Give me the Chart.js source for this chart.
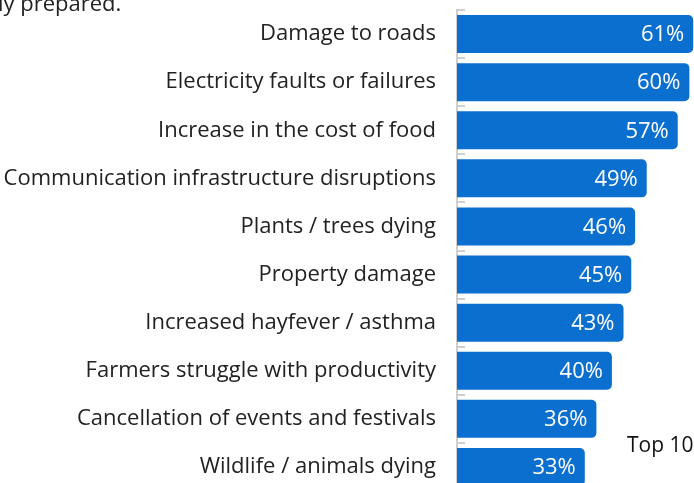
<!DOCTYPE html>
<html>
<head>
<meta charset="utf-8">
<script src="https://cdn.jsdelivr.net/npm/chart.js@4"></script>
<style>
  html, body { margin: 0; padding: 0; background: #fff; overflow: hidden; width: 694px; height: 483px; }
  #chart { position: absolute; left: 0; top: 0; }
  #title { position: absolute; left: -2px; top: -13px; font: 22px "Open Sans", sans-serif; color: #222; white-space: nowrap; }
  #note { position: absolute; left: 627px; top: 430px; font: 21px "Open Sans", sans-serif; color: #111; white-space: nowrap; }
</style>
</head>
<body>
<canvas id="chart" width="694" height="491"></canvas>
<div id="title">ly prepared.</div>
<div id="note">Top 10</div>
<script>
const categories = [
  "Damage to roads",
  "Electricity faults or failures",
  "Increase in the cost of food",
  "Communication infrastructure disruptions",
  "Plants / trees dying",
  "Property damage",
  "Increased hayfever / asthma",
  "Farmers struggle with productivity",
  "Cancellation of events and festivals",
  "Wildlife / animals dying"
];
const values = [61, 60, 57, 49, 46, 45, 43, 40, 36, 33];

const barColor = "#0b6fd0";
const axisColor = "#cfcfcf";

// white % labels at the end of each bar
const valueLabels = {
  id: "valueLabels",
  afterDatasetsDraw(chart) {
    const ctx = chart.ctx;
    const meta = chart.getDatasetMeta(0);
    ctx.save();
    ctx.fillStyle = "#ffffff";
    ctx.font = "22px 'Open Sans', sans-serif";
    ctx.textAlign = "right";
    ctx.textBaseline = "middle";
    meta.data.forEach((bar, i) => {
      ctx.fillText(values[i] + "%", bar.x - 9, bar.y + 1);
    });
    ctx.restore();
  }
};

// short ticks to the right of the axis, between categories
const boundaryTicks = {
  id: "boundaryTicks",
  afterDatasetsDraw(chart) {
    const ctx = chart.ctx;
    const y = chart.scales.y;
    const x0 = chart.chartArea.left;
    const pitch = y.getPixelForValue(1) - y.getPixelForValue(0);
    ctx.save();
    ctx.strokeStyle = axisColor;
    ctx.lineWidth = 2;
    for (let i = 0; i <= categories.length; i++) {
      const py = Math.round(y.getPixelForValue(0) + (i - 0.5) * pitch);
      ctx.beginPath();
      ctx.moveTo(x0 - 1, py);
      ctx.lineTo(x0 + 8, py);
      ctx.stroke();
    }
    ctx.restore();
  }
};

new Chart(document.getElementById("chart"), {
  type: "bar",
  data: {
    labels: categories,
    datasets: [{
      data: values,
      backgroundColor: barColor,
      borderRadius: { topRight: 5, bottomRight: 5 },
      borderSkipped: false,
      barPercentage: 0.79,
      categoryPercentage: 1.0
    }]
  },
  options: {
    indexAxis: "y",
    responsive: false,
    animation: false,
    layout: { padding: { top: 10, left: 0, right: 0, bottom: 0 } },
    plugins: { legend: { display: false }, tooltip: { enabled: false } },
    scales: {
      x: { display: false, min: 0, max: 61.2 },
      y: {
        afterFit(scale) {
          scale.width = 457;
          scale.paddingTop = 0;
          scale.paddingBottom = 0;
        },
        grid: { display: true, drawOnChartArea: false, drawTicks: false },
        border: { display: true, color: axisColor, width: 2 },
        ticks: {
          color: "#222",
          font: { family: "Open Sans", size: 22 },
          padding: 21
        }
      }
    }
  },
  plugins: [boundaryTicks, valueLabels]
});
</script>
</body>
</html>
